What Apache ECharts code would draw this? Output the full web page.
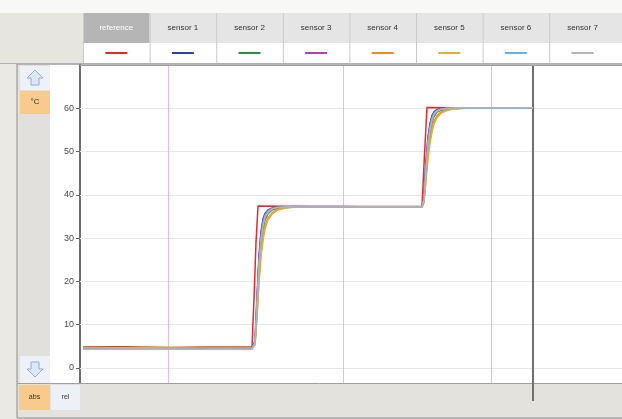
<!DOCTYPE html>
<html>
<head>
<meta charset="utf-8">
<script src="https://cdn.jsdelivr.net/npm/echarts@6/dist/echarts.min.js"></script>
<style>
html,body{margin:0;padding:0;background:#ebe9e4;}
#chart{width:622px;height:419px;}
</style>
</head>
<body>
<div id="chart"></div>
<script>
// ---------- data ----------
const seriesNames = ['reference', 'sensor 1', 'sensor 2', 'sensor 3', 'sensor 4', 'sensor 5', 'sensor 6', 'sensor 7'];
const yTicks = [0, 10, 20, 30, 40, 50, 60];
const unitLabel = '°C';
const modeLabels = ['abs', 'rel'];
const eventTimes = [88, 263, 411];
const cursorTime = 453;

const refTime = [3, 45, 90, 130, 172, 174, 176, 178, 180, 230, 290, 342, 344, 346, 347, 349, 400, 453];
const refTemp = [4.8, 4.9, 4.7, 4.8, 4.8, 16, 29, 37.4, 37.3, 37.3, 37.3, 37.3, 47, 56, 60.2, 60.1, 60.0, 60.0];

const sensorTime = [3, 60, 120, 172, 175, 177, 179, 181, 183, 185, 188, 192, 197, 205, 215, 260, 300, 342, 344, 346, 348, 350, 352, 354, 357, 361, 366, 373, 385, 410, 453];
const sensor1 = [4.5, 4.6, 4.4, 4.5, 6.2, 16.3, 26.0, 31.5, 34.4, 35.7, 36.5, 36.9, 37.1, 37.2, 37.2, 37.2, 37.1, 37.2, 39.6, 47.7, 53.4, 56.5, 58.3, 59.2, 59.7, 59.9, 60.0, 60.1, 60.1, 60.1, 60.1];
const sensor2 = [4.6, 4.5, 4.6, 4.6, 5.6, 13.5, 22.6, 28.5, 32.1, 34.2, 35.6, 36.5, 36.9, 37.2, 37.2, 37.2, 37.2, 37.2, 38.8, 45.2, 50.7, 54.4, 56.7, 58.1, 59.1, 59.5, 59.8, 60.0, 60.0, 60.0, 60.0];
const sensor3 = [4.4, 4.5, 4.5, 4.4, 6.0, 15.6, 25.2, 30.9, 34.0, 35.5, 36.4, 36.9, 37.1, 37.2, 37.3, 37.3, 37.2, 37.3, 39.4, 47.1, 52.8, 56.1, 58.0, 59.0, 59.6, 59.9, 60.0, 60.1, 60.1, 60.1, 60.1];
const sensor4 = [4.7, 4.6, 4.7, 4.7, 5.4, 12.3, 20.6, 26.5, 30.3, 32.8, 34.7, 35.8, 36.6, 37.0, 37.2, 37.2, 37.1, 37.2, 38.4, 44.2, 49.3, 52.9, 55.4, 57.0, 58.3, 59.1, 59.6, 59.9, 60.0, 60.0, 60.0];
const sensor5 = [4.6, 4.7, 4.5, 4.6, 5.3, 11.6, 19.6, 25.5, 29.4, 32.1, 34.2, 35.5, 36.4, 36.9, 37.2, 37.2, 37.2, 37.2, 38.2, 43.4, 48.3, 51.9, 54.5, 56.4, 57.8, 58.8, 59.4, 59.8, 60.0, 60.0, 60.0];
const sensor6 = [4.5, 4.4, 4.5, 4.5, 5.9, 14.8, 24.1, 30.0, 33.4, 35.1, 36.2, 36.8, 37.1, 37.2, 37.2, 37.2, 37.2, 37.2, 39.1, 46.4, 52.0, 55.5, 57.6, 58.8, 59.5, 59.8, 60.0, 60.0, 60.0, 60.0, 60.0];
const sensor7 = [4.3, 4.4, 4.3, 4.3, 5.7, 14.0, 23.2, 29.1, 32.8, 34.7, 35.9, 36.7, 37.0, 37.2, 37.2, 37.2, 37.2, 37.2, 38.9, 45.8, 51.4, 55.0, 57.2, 58.5, 59.3, 59.7, 59.9, 60.1, 60.1, 60.1, 60.1];

// ---------- styles ----------
const seriesColors = ['#e8272c', '#2f3f9e', '#2f8c4a', '#b042b2', '#f08a26', '#dfb035', '#5cb6ea', '#b4b4b4'];
const FONT = '"Liberation Sans", Arial, sans-serif';

const zip = (xs, ys) => xs.map((x, i) => [x, ys[i]]);
const sensorValues = [sensor1, sensor2, sensor3, sensor4, sensor5, sensor6, sensor7];
const allData = [zip(refTime, refTemp)].concat(sensorValues.map(v => zip(sensorTime, v)));

const chart = echarts.init(document.getElementById('chart'), null, {renderer: 'canvas'});

// ---------- UI chrome (graphic) ----------
const W = 622;
const plotTop = 65, plotBottom = 383, plotLeft = 80;
const tabX0 = 83, tabW = 66.6, tabTop = 13, tabMid = 43, tabBot = 63;
const g = [];
g.push({type: 'rect', z: -5, shape: {x: 0, y: 0, width: W, height: tabTop}, style: {fill: '#f8f8f7'}});
g.push({type: 'rect', z: -5, shape: {x: 0, y: tabTop, width: tabX0, height: tabBot - tabTop}, style: {fill: '#e7e5e0'}});
g.push({type: 'rect', z: -5, shape: {x: tabX0, y: tabMid, width: W - tabX0, height: tabBot - tabMid}, style: {fill: '#ffffff'}});
seriesNames.forEach((name, i) => {
  const x = tabX0 + i * tabW;
  const w = (i === seriesNames.length - 1) ? W - x : tabW;
  g.push({type: 'rect', z: -4, shape: {x: x, y: tabTop, width: w, height: tabMid - tabTop},
    style: {fill: i === 0 ? '#b5b5b5' : '#e5e5e5'}});
  g.push({type: 'line', z: -3, shape: {x1: x + 0.5, y1: tabTop, x2: x + 0.5, y2: tabBot}, style: {stroke: '#cacaca', lineWidth: 1}});
  g.push({type: 'text', z: -2, style: {text: name, x: x + tabW / 2, y: 28, textAlign: 'center', textVerticalAlign: 'middle',
    font: '8px ' + FONT, fill: i === 0 ? '#ffffff' : '#333333'}});
  g.push({type: 'line', z: -2, shape: {x1: x + tabW / 2 - 11, y1: 53, x2: x + tabW / 2 + 11, y2: 53},
    style: {stroke: seriesColors[i], lineWidth: 2}});
});
g.push({type: 'line', z: -2, shape: {x1: 0, y1: tabBot + 0.5, x2: W, y2: tabBot + 0.5}, style: {stroke: '#b0b0b0', lineWidth: 1}});
// frame
g.push({type: 'rect', z: -6, shape: {x: 17, y: 64, width: W - 17 + 2, height: 354}, style: {fill: '#e4e2dd', stroke: '#8a8a8a', lineWidth: 1}});
g.push({type: 'rect', z: -5, shape: {x: 50, y: plotTop, width: 30, height: plotBottom - plotTop}, style: {fill: '#ffffff'}});
g.push({type: 'rect', z: -5, shape: {x: 19, y: plotTop, width: 31, height: plotBottom - plotTop}, style: {fill: '#e2e0dc'}});
// plot top / bottom borders
g.push({type: 'line', z: 1, shape: {x1: plotLeft, y1: plotTop + 0.5, x2: W, y2: plotTop + 0.5}, style: {stroke: '#a0a0a0', lineWidth: 1}});
g.push({type: 'line', z: 1, shape: {x1: 17, y1: plotBottom + 0.5, x2: W, y2: plotBottom + 0.5}, style: {stroke: '#a0a0a0', lineWidth: 1}});
// up button
g.push({type: 'rect', z: -4, shape: {x: 20, y: 66, width: 30, height: 24}, style: {fill: '#eef1f8'}});
g.push({type: 'polygon', z: -3, shape: {points: [[35, 70], [43, 78], [39, 78], [39, 85], [31, 85], [31, 78], [27, 78]]},
  style: {fill: '#dce7f7', stroke: '#8eaedb', lineWidth: 1}});
// unit button
g.push({type: 'rect', z: -4, shape: {x: 20, y: 91, width: 30, height: 23}, style: {fill: '#f8cb8d'}});
g.push({type: 'text', z: -3, style: {text: unitLabel, x: 35, y: 102, textAlign: 'center', textVerticalAlign: 'middle', font: '8px ' + FONT, fill: '#333'}});
// down button
g.push({type: 'rect', z: -4, shape: {x: 20, y: 356, width: 30, height: 27}, style: {fill: '#eef1f8'}});
g.push({type: 'polygon', z: -3, shape: {points: [[35, 377], [43, 369], [39, 369], [39, 362], [31, 362], [31, 369], [27, 369]]},
  style: {fill: '#dce7f7', stroke: '#8eaedb', lineWidth: 1}});
// abs / rel
g.push({type: 'rect', z: -4, shape: {x: 19, y: 385, width: 31, height: 25}, style: {fill: '#f8cb8d'}});
g.push({type: 'text', z: -3, style: {text: modeLabels[0], x: 34.5, y: 397, textAlign: 'center', textVerticalAlign: 'middle', font: '7px ' + FONT, fill: '#333'}});
g.push({type: 'rect', z: -4, shape: {x: 51, y: 385, width: 29, height: 25}, style: {fill: '#eef0f7'}});
g.push({type: 'text', z: -3, style: {text: modeLabels[1], x: 65.5, y: 397, textAlign: 'center', textVerticalAlign: 'middle', font: '7px ' + FONT, fill: '#334'}});

const lineSeries = seriesNames.map((name, i) => ({
  name: name,
  type: 'line',
  data: allData[i],
  showSymbol: false,
  symbol: 'none',
  smooth: false,
  animation: false,
  silent: true,
  z: 2 + i,
  lineStyle: {color: seriesColors[i], width: 1.5}
}));

const guides = {
  name: 'guides',
  type: 'line',
  data: [],
  animation: false,
  silent: true,
  markLine: {
    z: 1,
    silent: true,
    symbol: 'none',
    animation: false,
    label: {show: false},
    emphasis: {disabled: true},
    data: yTicks.map(v => ({yAxis: v, lineStyle: {color: '#e8e8e8', width: 1, type: 'solid'}}))
      .concat(eventTimes.map(t => ({xAxis: t, lineStyle: {color: '#f6b9c8', width: 1, type: 'solid'}})))
      .concat([{xAxis: cursorTime, lineStyle: {color: '#6f6f6f', width: 2, type: 'solid'}}])
  }
};

const option = {
  animation: false,
  backgroundColor: '#ebe9e4',
  textStyle: {fontFamily: FONT},
  graphic: {elements: g},
  grid: {left: plotLeft, right: 0, top: plotTop, bottom: 419 - plotBottom, show: true, backgroundColor: '#ffffff', borderWidth: 0, containLabel: false},
  xAxis: {type: 'value', min: 0, max: 542, show: false},
  yAxis: {
    type: 'value', min: -3.5, max: 70,
    axisLine: {show: true, onZero: false, lineStyle: {color: '#6e6e6e', width: 2}},
    axisTick: {show: true, customValues: yTicks, length: 4, lineStyle: {color: '#666'}},
    axisLabel: {show: true, customValues: yTicks, fontSize: 9, color: '#4a4a4a', margin: 6, fontFamily: FONT},
    splitLine: {show: false}
  },
  series: [guides].concat(lineSeries)
};
chart.setOption(option);

// cursor extension into the bottom panel
const cx = chart.convertToPixel({gridIndex: 0}, [cursorTime, 0])[0];
g.push({type: 'line', z: 5, shape: {x1: cx, y1: plotBottom, x2: cx, y2: 401}, style: {stroke: '#6f6f6f', lineWidth: 2}});
chart.setOption({graphic: {elements: g}}, {replaceMerge: ['graphic']});
</script>
</body>
</html>
